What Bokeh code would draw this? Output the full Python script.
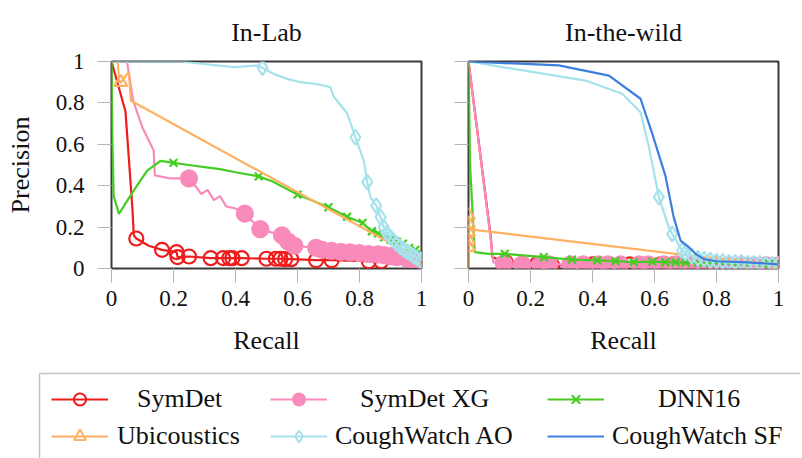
from bokeh.plotting import figure
from bokeh.layouts import column, row
from bokeh.models import (Range1d, FixedTicker, NumeralTickFormatter, Legend, LegendItem,
                          BoxAnnotation, CustomJSTickFormatter)
from bokeh.embed import file_html
from bokeh.resources import INLINE

SERIF = "Liberation Serif"

# ---------------- data: In-Lab ----------------
lab_symdet_x = [0, 0.045, 0.067, 0.072, 0.08, 0.12, 0.163, 0.21, 0.213, 0.25, 0.32, 0.36, 0.38, 0.39, 0.42, 0.50, 0.53, 0.545, 0.56, 0.58, 0.66, 0.71, 0.83, 0.87, 0.95, 1.0]
lab_symdet_y = [1.0, 0.76, 0.30, 0.16, 0.145, 0.11, 0.09, 0.079, 0.055, 0.058, 0.05, 0.05, 0.05, 0.05, 0.05, 0.047, 0.047, 0.047, 0.045, 0.045, 0.04, 0.04, 0.035, 0.035, 0.03, 0.03]
lab_symdet_mx = [0.08, 0.163, 0.21, 0.213, 0.25, 0.32, 0.36, 0.38, 0.39, 0.42, 0.50, 0.53, 0.545, 0.56, 0.58, 0.66, 0.71, 0.83, 0.87]
lab_symdet_my = [0.145, 0.09, 0.079, 0.055, 0.058, 0.05, 0.05, 0.05, 0.05, 0.05, 0.047, 0.047, 0.047, 0.045, 0.045, 0.04, 0.04, 0.035, 0.035]

lab_xg_x = [0.05, 0.07, 0.10, 0.136, 0.14, 0.19, 0.25, 0.27, 0.29, 0.31, 0.33, 0.35, 0.37, 0.40, 0.43, 0.48, 0.55, 0.57, 0.59, 0.66, 0.68, 0.71, 0.74, 0.77, 0.80, 0.83, 0.86, 0.88, 0.90, 0.92, 0.95, 0.97, 1.0]
lab_xg_y = [1.0, 0.81, 0.68, 0.57, 0.45, 0.435, 0.435, 0.40, 0.36, 0.38, 0.33, 0.35, 0.30, 0.29, 0.265, 0.19, 0.16, 0.13, 0.11, 0.10, 0.09, 0.085, 0.08, 0.078, 0.075, 0.07, 0.068, 0.065, 0.06, 0.055, 0.05, 0.045, 0.04]
lab_xg_mx = [0.25, 0.43, 0.48, 0.55, 0.57, 0.59, 0.66, 0.68, 0.71, 0.74, 0.77, 0.80, 0.83, 0.86, 0.88, 0.90, 0.92, 0.95, 0.97, 1.0]
lab_xg_my = [0.435, 0.265, 0.19, 0.16, 0.13, 0.11, 0.10, 0.09, 0.085, 0.08, 0.078, 0.075, 0.07, 0.068, 0.065, 0.06, 0.055, 0.05, 0.045, 0.04]

lab_dnn_x = [0, 0.003, 0.007, 0.024, 0.072, 0.115, 0.158, 0.20, 0.25, 0.30, 0.35, 0.40, 0.475, 0.52, 0.60, 0.70, 0.76, 0.81, 0.84, 0.86, 0.88, 0.90, 0.92, 0.94, 0.96, 0.98, 1.0]
lab_dnn_y = [1.0, 0.60, 0.35, 0.264, 0.377, 0.473, 0.52, 0.51, 0.50, 0.49, 0.48, 0.465, 0.445, 0.42, 0.357, 0.296, 0.25, 0.22, 0.18, 0.17, 0.15, 0.14, 0.13, 0.12, 0.10, 0.09, 0.07]
lab_dnn_mx = [0.20, 0.475, 0.60, 0.70, 0.76, 0.81, 0.84, 0.86, 0.88, 0.90, 0.92, 0.94, 0.96, 0.98, 1.0]
lab_dnn_my = [0.51, 0.445, 0.357, 0.296, 0.25, 0.22, 0.18, 0.17, 0.15, 0.14, 0.13, 0.12, 0.10, 0.09, 0.07]

lab_ubi_x = [0.02, 0.025, 0.03, 0.056, 0.063, 1.0]
lab_ubi_y = [1.0, 0.90, 0.90, 0.95, 0.81, 0.04]
lab_ubi_mx = [0.03, 1.0]
lab_ubi_my = [0.90, 0.04]

lab_ao_x = [0, 0.223, 0.287, 0.395, 0.47, 0.487, 0.524, 0.567, 0.61, 0.664, 0.706, 0.717, 0.76, 0.787, 0.814, 0.825, 0.835, 0.854, 0.868, 0.878, 0.888, 0.90, 0.91, 0.92, 0.932, 0.945, 0.955, 0.965, 0.975, 0.985, 0.997]
lab_ao_y = [1.0, 1.0, 0.989, 0.973, 0.98, 0.97, 0.94, 0.916, 0.90, 0.89, 0.876, 0.83, 0.75, 0.634, 0.52, 0.417, 0.345, 0.304, 0.248, 0.20, 0.17, 0.15, 0.135, 0.12, 0.103, 0.09, 0.08, 0.07, 0.06, 0.05, 0.04]
lab_ao_mx = [0.487, 0.787, 0.825, 0.854, 0.868, 0.878, 0.888, 0.90, 0.91, 0.92, 0.932, 0.945, 0.955, 0.965, 0.975, 0.985, 0.997]
lab_ao_my = [0.97, 0.634, 0.417, 0.304, 0.248, 0.20, 0.17, 0.15, 0.135, 0.12, 0.103, 0.09, 0.08, 0.07, 0.06, 0.05, 0.04]

# ---------------- data: In-the-wild ----------------
wild_symdet_x = [0, 0.072, 0.077, 0.12, 0.22, 0.27, 0.40, 0.43, 0.52, 0.55, 0.62, 0.66, 0.72, 0.78, 0.84, 0.90, 0.96, 1.0]
wild_symdet_y = [1.0, 0.15, 0.055, 0.03, 0.02, 0.015, 0.02, 0.015, 0.02, 0.02, 0.02, 0.02, 0.015, 0.015, 0.015, 0.015, 0.015, 0.015]
wild_symdet_mx = [0.12, 0.22, 0.27, 0.40, 0.43, 0.52, 0.55, 0.62, 0.66, 0.72, 0.78, 0.84, 0.90, 0.96]
wild_symdet_my = [0.03, 0.02, 0.015, 0.02, 0.015, 0.02, 0.02, 0.02, 0.02, 0.015, 0.015, 0.015, 0.015, 0.015]

wild_xg_x = [0, 0.071, 0.08, 0.114, 0.173, 0.232, 0.26, 0.329, 0.37, 0.42, 0.45, 0.49, 0.55, 0.58, 0.63, 0.67, 0.72, 0.76, 0.80, 0.84, 0.88, 0.92, 0.96, 1.0]
wild_xg_y = [1.0, 0.152, 0.03, 0.025, 0.02, 0.02, 0.02, 0.02, 0.02, 0.02, 0.02, 0.02, 0.02, 0.02, 0.02, 0.02, 0.018, 0.018, 0.018, 0.016, 0.016, 0.015, 0.015, 0.015]
wild_xg_mx = [0.114, 0.173, 0.232, 0.26, 0.329, 0.37, 0.42, 0.45, 0.49, 0.55, 0.58, 0.63, 0.67, 0.72, 0.76, 0.80, 0.84, 0.88, 0.92, 0.96, 1.0]
wild_xg_my = [0.025, 0.02, 0.02, 0.02, 0.02, 0.02, 0.02, 0.02, 0.02, 0.02, 0.02, 0.02, 0.02, 0.018, 0.018, 0.018, 0.016, 0.016, 0.015, 0.015, 0.015]

wild_dnn_x = [0, 0.005, 0.02, 0.065, 0.117, 0.243, 0.334, 0.415, 0.474, 0.533, 0.593, 0.635, 0.668, 0.70, 0.74, 0.78, 0.82, 0.86, 0.90, 0.94, 0.97, 1.0]
wild_dnn_y = [1.0, 0.50, 0.079, 0.071, 0.071, 0.055, 0.043, 0.039, 0.036, 0.031, 0.033, 0.03, 0.03, 0.028, 0.027, 0.026, 0.025, 0.024, 0.023, 0.023, 0.023, 0.023]
wild_dnn_mx = [0.117, 0.243, 0.334, 0.415, 0.474, 0.533, 0.593, 0.635, 0.668, 0.70, 0.74, 0.78, 0.82, 0.86, 0.90, 0.94, 0.97, 1.0]
wild_dnn_my = [0.071, 0.055, 0.043, 0.039, 0.036, 0.031, 0.033, 0.03, 0.03, 0.028, 0.027, 0.026, 0.025, 0.024, 0.023, 0.023, 0.023, 0.023]

wild_ubi_x = [0, 0, 0, 0, 0, 0, 0, 0.70, 1.0]
wild_ubi_y = [0.0, 0.103, 0.135, 0.176, 0.216, 0.256, 0.19, 0.065, 0.02]
wild_ubi_mx = [0, 0, 0, 0, 0, 1.0]
wild_ubi_my = [0.103, 0.135, 0.176, 0.216, 0.256, 0.02]

wild_ao_x = [0, 0.377, 0.496, 0.555, 0.582, 0.614, 0.646, 0.657, 0.689, 0.70, 0.72, 0.74, 0.76, 0.78, 0.80, 0.82, 0.84, 0.86, 0.88, 0.90, 0.92, 0.94, 0.96, 0.98, 1.0]
wild_ao_y = [1.0, 0.908, 0.844, 0.755, 0.586, 0.345, 0.20, 0.167, 0.087, 0.075, 0.06, 0.05, 0.045, 0.04, 0.035, 0.035, 0.03, 0.03, 0.03, 0.025, 0.025, 0.025, 0.02, 0.02, 0.02]
wild_ao_mx = [0.614, 0.657, 0.689, 0.70, 0.72, 0.74, 0.76, 0.78, 0.80, 0.82, 0.84, 0.86, 0.88, 0.90, 0.92, 0.94, 0.96, 0.98, 1.0]
wild_ao_my = [0.345, 0.167, 0.087, 0.075, 0.06, 0.05, 0.045, 0.04, 0.035, 0.035, 0.03, 0.03, 0.03, 0.025, 0.025, 0.025, 0.02, 0.02, 0.02]

wild_sf_x = [0, 0.291, 0.453, 0.555, 0.593, 0.635, 0.662, 0.684, 0.711, 0.732, 0.76, 0.80, 0.90, 1.0]
wild_sf_y = [1.0, 0.981, 0.932, 0.82, 0.65, 0.449, 0.248, 0.135, 0.103, 0.071, 0.045, 0.035, 0.03, 0.02]

ticks = [0, 0.2, 0.4, 0.6, 0.8, 1.0]
series_names = ["SymDet", "SymDet XG", "DNN16", "Ubicoustics", "CoughWatch AO", "CoughWatch SF"]

# ---------------- styles ----------------
RED = "#ee1c1c"
PINK = "#f98bbb"
GREEN = "#44cc22"
ORANGE = "#ffb060"
LBLUE = "#a5e2ec"
BLUE = "#3d7fdd"
FRAME = "#3a3a3a"
TICK = "#b5b5b5"
TXT = "#111111"

STYLE = {
    "SymDet": dict(color=RED, marker="circle", size=14, fill=None),
    "SymDet XG": dict(color=PINK, marker="circle", size=16, fill=PINK),
    "DNN16": dict(color=GREEN, marker="x", size=11, fill=None),
    "Ubicoustics": dict(color=ORANGE, marker="triangle", size=13, fill=None),
    "CoughWatch AO": dict(color=LBLUE, marker="diamond", size=15, fill=None),
    "CoughWatch SF": dict(color=BLUE, marker=None, size=0, fill=None),
}


def draw(p, name, xs, ys, mx=None, my=None):
    st = STYLE[name]
    p.line(xs, ys, line_color=st["color"], line_width=2.2)
    if mx is not None and st["marker"]:
        p.scatter(mx, my, marker=st["marker"], size=st["size"], line_color=st["color"],
                  fill_color=st["fill"], line_width=2.2)


def panel(title, width, bl, br, show_y):
    p = figure(width=width, height=362, output_backend="svg", toolbar_location=None,
               x_range=Range1d(0, 1), y_range=Range1d(0, 1),
               min_border_left=bl, min_border_right=br, min_border_top=61, min_border_bottom=94)
    p.title.text = title
    p.title.align = "center"
    p.title.text_font = SERIF
    p.title.text_font_size = "26px"
    p.title.text_font_style = "normal"
    p.title.text_color = TXT
    p.title.standoff = 29
    p.xgrid.visible = False
    p.ygrid.visible = False
    p.outline_line_color = FRAME
    p.outline_line_width = 2
    p.border_fill_color = "white"
    for ax in (p.xaxis[0], p.yaxis[0]):
        ax.ticker = FixedTicker(ticks=ticks)
        ax.formatter = NumeralTickFormatter(format="0.[0]")
        ax.axis_line_color = None
        ax.major_tick_line_color = TICK
        ax.major_tick_out = 14
        ax.major_tick_in = 0
        ax.minor_tick_line_color = None
        ax.major_label_text_font = SERIF
        ax.major_label_text_font_size = "23px"
        ax.major_label_text_color = TXT
        ax.axis_label_text_font = SERIF
        ax.axis_label_text_font_size = "26px"
        ax.axis_label_text_font_style = "normal"
        ax.axis_label_text_color = TXT
    p.xaxis.axis_label = "Recall"
    p.xaxis.major_label_standoff = 8
    p.xaxis.axis_label_standoff = 17
    if show_y:
        p.yaxis.axis_label = "Precision"
        p.yaxis.major_label_standoff = 13
        p.yaxis.axis_label_standoff = 18
    else:
        p.yaxis.formatter = CustomJSTickFormatter(code="return ''")
        p.yaxis.major_label_standoff = 0
    return p


p1 = panel("In-Lab", 428, 111, 7, True)
draw(p1, "SymDet", lab_symdet_x, lab_symdet_y, lab_symdet_mx, lab_symdet_my)
draw(p1, "SymDet XG", lab_xg_x, lab_xg_y, lab_xg_mx, lab_xg_my)
draw(p1, "DNN16", lab_dnn_x, lab_dnn_y, lab_dnn_mx, lab_dnn_my)
draw(p1, "Ubicoustics", lab_ubi_x, lab_ubi_y, lab_ubi_mx, lab_ubi_my)
draw(p1, "CoughWatch AO", lab_ao_x, lab_ao_y, lab_ao_mx, lab_ao_my)

p2 = panel("In-the-wild", 372, 40, 22, False)
draw(p2, "SymDet", wild_symdet_x, wild_symdet_y, wild_symdet_mx, wild_symdet_my)
draw(p2, "SymDet XG", wild_xg_x, wild_xg_y, wild_xg_mx, wild_xg_my)
draw(p2, "DNN16", wild_dnn_x, wild_dnn_y, wild_dnn_mx, wild_dnn_my)
draw(p2, "Ubicoustics", wild_ubi_x, wild_ubi_y, wild_ubi_mx, wild_ubi_my)
draw(p2, "CoughWatch AO", wild_ao_x, wild_ao_y, wild_ao_mx, wild_ao_my)
draw(p2, "CoughWatch SF", wild_sf_x, wild_sf_y)

# ---------------- legend panel ----------------
LW, LH = 800, 96
pl = figure(width=LW, height=LH, output_backend="svg", toolbar_location=None,
            x_range=Range1d(0, LW), y_range=Range1d(0, LH),
            x_axis_location=None, y_axis_location=None,
            min_border=0, min_border_left=0, min_border_right=0, min_border_top=0, min_border_bottom=0)
pl.title.visible = False
pl.xgrid.visible = False
pl.ygrid.visible = False
pl.outline_line_color = None
pl.border_fill_color = "white"
pl.add_layout(BoxAnnotation(left=39, right=LW * 5, bottom=-LH * 5, top=LH - 11,
                            fill_alpha=0, line_color=FRAME, line_width=1.5))

nan = float("nan")
# (glyph left x, bottom y, label standoff)
legend_pos = {
    "SymDet": (51, 44, 29),
    "Ubicoustics": (51, 7, 9),
    "SymDet XG": (270, 44, 33),
    "CoughWatch AO": (270, 7, 8),
    "DNN16": (547, 44, 54),
    "CoughWatch SF": (547, 7, 8),
}
for name in series_names:
    st = STYLE[name]
    rs = [pl.line([nan], [nan], line_color=st["color"], line_width=2.2)]
    if st["marker"]:
        rs.append(pl.scatter([nan], [nan], marker=st["marker"], size=st["size"] - 1,
                             line_color=st["color"], fill_color=st["fill"], line_width=2))
    gx, gy, so = legend_pos[name]
    leg = Legend(items=[LegendItem(label=name, renderers=rs)], location=(gx, gy),
                 border_line_color=None, background_fill_alpha=0, padding=0, margin=0,
                 spacing=0, glyph_width=57, glyph_height=30, label_height=30,
                 label_standoff=so, label_text_font=SERIF, label_text_font_size="26px",
                 label_text_color=TXT)
    pl.add_layout(leg, "center")

layout = column(row(p1, p2), pl)
open("out.html", "w").write(file_html(layout, INLINE))
